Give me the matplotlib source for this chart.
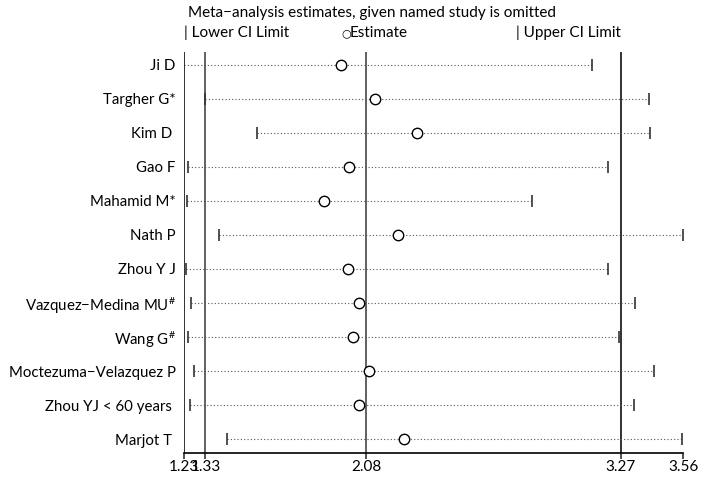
import matplotlib
matplotlib.use("Agg")
from matplotlib import pyplot as plt

plt.rcParams['font.family'] = ['Lato', 'DejaVu Sans']
plt.rcParams['mathtext.fontset'] = 'custom'
plt.rcParams['mathtext.rm'] = 'Lato'
plt.rcParams['mathtext.it'] = 'Lato'

# 各研究剔除后的合并估计值
studies = ["Ji D", "Targher G*", "Kim D ", "Gao F", "Mahamid M*", "Nath P",
           "Zhou Y J", "Vazquez\u2212Medina MU$^{\\#}$", "Wang G$^{\\#}$",
           "Moctezuma\u2212Velazquez P", "Zhou YJ < 60 years ", "Marjot T "]
estimate = [1.963, 2.123, 2.316, 2.000, 1.885, 2.228,
            1.994, 2.047, 2.018, 2.092, 2.045, 2.256]
lower = [1.232, 1.328, 1.572, 1.247, 1.244, 1.392,
         1.239, 1.261, 1.247, 1.278, 1.258, 1.431]
upper = [3.135, 3.401, 3.407, 3.211, 2.856, 3.560,
         3.208, 3.336, 3.262, 3.424, 3.331, 3.555]

# 总体: 下限, 估计, 上限
ref_lines = [1.23, 1.33, 2.08, 3.27, 3.56]
ref_labels = ["1.23", "1.33", "2.08", "3.27", "3.56"]

fig = plt.figure(figsize=(7.16, 4.84), dpi=100)
ax = fig.add_axes([0.257, 0.064, 0.697, 0.829])

n = len(studies)
ys = list(range(n, 0, -1))

ax.axvline(1.23, color="#222222", lw=1.3, zorder=1)
ax.axvline(1.33, color="#555555", lw=1.3, zorder=1)
ax.axvline(2.08, color="#555555", lw=1.3, zorder=1)
ax.axvline(3.27, color="#222222", lw=1.3, zorder=1)

for y, lo, est, up in zip(ys, lower, estimate, upper):
    ax.plot([lo, up], [y, y], linestyle=(0, (1, 2)), color="#555555", lw=0.8, zorder=2)
ax.plot(lower, ys, linestyle="none", marker="|", markersize=9, mew=1.2, color="#333333", zorder=3)
ax.plot(upper, ys, linestyle="none", marker="|", markersize=9, mew=1.2, color="#333333", zorder=3)
ax.plot(estimate, ys, linestyle="none", marker="o", markersize=7.5, mfc="white",
        mec="black", mew=1.0, zorder=4)

ax.set_xlim(1.23, 3.56)
ax.set_ylim(0.59, 12.38)
ax.set_xticks(ref_lines)
ax.set_xticklabels(ref_labels, fontsize=11)
ax.set_yticks(ys)
ax.set_yticklabels(studies, fontsize=10.8)
ax.tick_params(axis="y", length=0, pad=6)
ax.tick_params(axis="x", length=4, width=1.2, color="#333333", pad=1)
for s in ["top", "right", "left"]:
    ax.spines[s].set_visible(False)
ax.spines["bottom"].set_linewidth(1.2)

fig.text(188 / 716, 1 - 13 / 484, "Meta\u2212analysis estimates, given named study is omitted",
         fontsize=11, va="center", ha="left")
fig.text(184 / 716, 1 - 33 / 484, "| Lower CI Limit", fontsize=11, va="center", ha="left")
fig.text(341 / 716, 1 - 33 / 484, "\u25cb", fontsize=8, va="center", ha="left",
         family=["DejaVu Sans"])
fig.text(350 / 716, 1 - 33 / 484, "Estimate", fontsize=11, va="center", ha="left")
fig.text(516 / 716, 1 - 33 / 484, "| Upper CI Limit", fontsize=11, va="center", ha="left")

plt.savefig("out.png", dpi=100)
